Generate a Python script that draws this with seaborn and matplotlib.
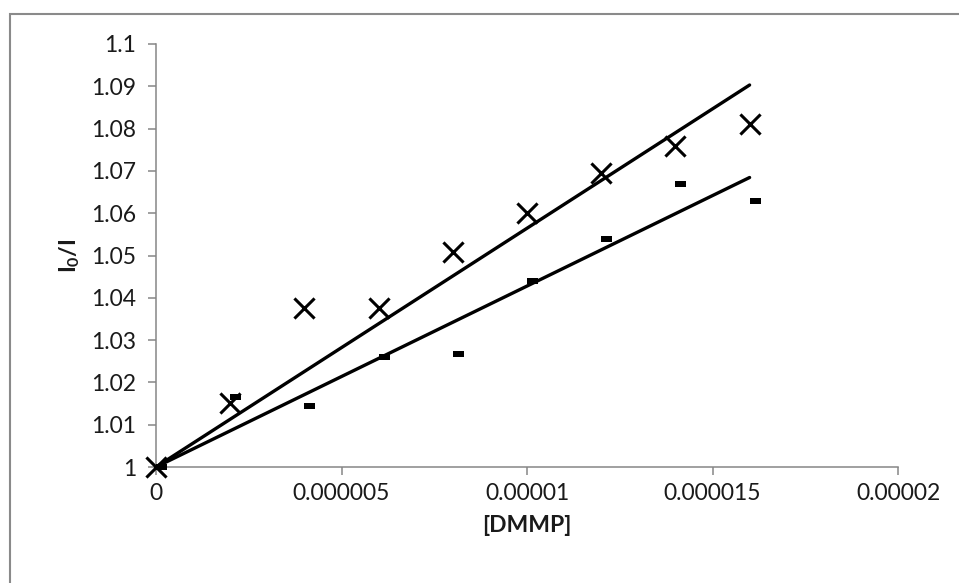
import numpy as np
import pandas as pd
import matplotlib
matplotlib.use("Agg")
import matplotlib.pyplot as plt
from matplotlib.patches import Rectangle
from matplotlib.path import Path
import seaborn as sns

# DMMP concentrations and relative intensities I0/I for two sensor series
conc = [0, 2e-6, 4e-6, 6e-6, 8e-6, 10e-6, 12e-6, 14e-6, 16e-6]
ratio_a = [1.0, 1.0151, 1.0376, 1.0376, 1.0508, 1.0600, 1.0694, 1.0759, 1.0811]
ratio_b = [1.0, 1.0166, 1.0144, 1.0259, 1.0266, 1.0440, 1.0539, 1.0669, 1.0630]

x_ticks = [0, 5e-6, 1e-5, 1.5e-5, 2e-5]
x_tick_labels = ["0", "0.000005", "0.00001", "0.000015", "0.00002"]
y_ticks = [1.0, 1.01, 1.02, 1.03, 1.04, 1.05, 1.06, 1.07, 1.08, 1.09, 1.1]
y_tick_labels = ["1", "1.01", "1.02", "1.03", "1.04", "1.05", "1.06", "1.07", "1.08", "1.09", "1.1"]

sns.set_style("white")
plt.rcParams["font.family"] = ["Lato", "DejaVu Sans"]
plt.rcParams["mathtext.fontset"] = "custom"
plt.rcParams["mathtext.rm"] = "Lato:bold"
plt.rcParams["mathtext.it"] = "Lato:bold"
plt.rcParams["mathtext.bf"] = "Lato:bold"

W, H = 959, 583
fig = plt.figure(figsize=(W / 100, H / 100), dpi=100)
fig.patch.set_facecolor("white")
ax = fig.add_axes([156 / W, (H - 467) / H, (898 - 156) / W, (467 - 44) / H])

df = pd.DataFrame({"conc": conc, "a": ratio_a, "b": ratio_b})


def origin_fit(x, y):
    """Least-squares line forced through (0, 1)."""
    x = np.asarray(x)
    y = np.asarray(y) - 1.0
    slope = np.sum(x * y) / np.sum(x * x)
    xs = np.array([0.0, x.max()])
    return xs, 1.0 + slope * xs


gray = "#868686"

# trend lines
for col in ["a", "b"]:
    xs, ys = origin_fit(df["conc"], df[col])
    sns.lineplot(x=xs, y=ys, ax=ax, color="black", linewidth=2.4, zorder=2,
                 solid_capstyle="round")

# dash marker, drawn slightly to the right of its point
dash = Path([(0, -2.8), (11, -2.8), (11, 2.8), (0, 2.8), (0, -2.8)],
            [Path.MOVETO, Path.LINETO, Path.LINETO, Path.LINETO, Path.CLOSEPOLY])

sns.scatterplot(data=df, x="conc", y="b", ax=ax, marker=dash, s=251,
                color="black", linewidth=0, zorder=3, clip_on=False)
sns.scatterplot(data=df, x="conc", y="a", ax=ax, marker="x", s=210,
                color="black", linewidth=2.2, zorder=4, clip_on=False)

ax.set_xlim(0, 2e-5)
ax.set_ylim(1.0, 1.1)
ax.set_xticks(x_ticks)
ax.set_xticklabels(x_tick_labels)
ax.set_yticks(y_ticks)
ax.set_yticklabels(y_tick_labels)

for side in ["top", "right"]:
    ax.spines[side].set_visible(False)
for side in ["left", "bottom"]:
    ax.spines[side].set_color(gray)
    ax.spines[side].set_linewidth(1.1)

ax.tick_params(axis="both", which="major", direction="out", length=5.5,
               width=1.1, color=gray, labelsize=16.5, labelcolor="#1a1a1a")
ax.tick_params(axis="y", pad=9)
ax.tick_params(axis="x", pad=6)
ax.tick_params(left=True, bottom=True)

ax.set_xlabel("[DMMP]", fontsize=16.5, fontweight="bold", color="#1a1a1a", labelpad=8)
ax.set_ylabel(r"$\mathbf{I_0/I}$", fontsize=16.5, color="#1a1a1a", labelpad=6)

ax.grid(False)
ax.set_facecolor("white")

# chart-area frame (open towards the right and bottom)
fig.patches.append(Rectangle((10 / W, -0.1), 1.2, (H - 14) / H + 0.1,
                             transform=fig.transFigure, fill=False,
                             edgecolor="#8a8a8a", linewidth=1.5, zorder=0))

fig.savefig("out.png", dpi=100, facecolor="white")
